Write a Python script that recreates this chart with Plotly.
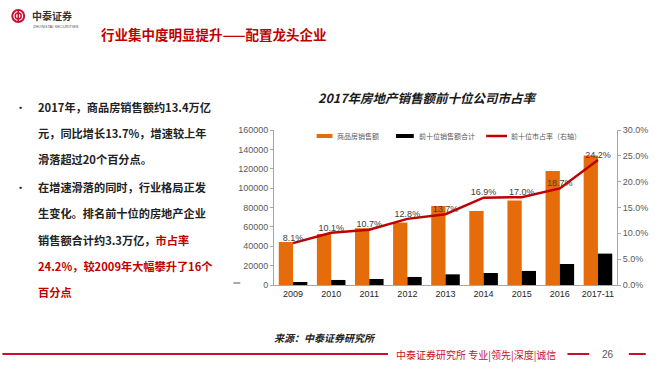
import plotly.graph_objects as go

# ---------------- data ----------------
years = ["2009", "2010", "2011", "2012", "2013", "2014", "2015", "2016", "2017-11"]
sales_total = [44355, 52721, 58589, 64456, 81428, 76292, 87281, 117627, 133701]   # 商品房销售额
top10_sales = [3100, 5200, 6200, 8300, 11000, 12400, 14500, 21700, 32400]          # 前十位销售额合计
top10_share = [8.1, 10.1, 10.7, 12.8, 13.7, 16.9, 17.0, 18.7, 24.2]                # 前十位市占率 (%)
share_labels = [f"{v:.1f}%" for v in top10_share]

legend_names = ["商品房销售额", "前十位销售额合计", "前十位市占率（右轴）"]
chart_title = "2017年房地产销售额前十位公司市占率"
page_title = "行业集中度明显提升——配置龙头企业"
bullet_lines = [
    ("•", "2017年，商品房销售额约13.4万亿"),
    ("", "元，同比增长13.7%，增速较上年"),
    ("", "滑落超过20个百分点。"),
    ("•", "在增速滑落的同时，行业格局正发"),
    ("", "生变化。排名前十位的房地产企业"),
    ("", "销售额合计约3.3万亿，<span style='color:#C00000'>市占率</span>"),
    ("", "<span style='color:#C00000'>24.2%，较2009年大幅攀升了16个</span>"),
    ("", "<span style='color:#C00000'>百分点</span>"),
]
source_text = "来源：中泰证券研究所"
footer_text = "中泰证券研究所 专业|领先|深度|诚信"
page_no = "26"

# ---------------- layout helpers ----------------
W, H = 660, 376
L, R, T, B = 274, 620, 130, 285
def X(px):
    return (px - L) / (R - L)
def Y(py):
    return (B - py) / (B - T)

ORANGE = "#E46C0A"
RED = "#C00000"
CJK = "Noto Sans CJK SC"

fig = go.Figure()
fig.add_trace(go.Bar(x=years, y=sales_total, name=legend_names[0],
                     marker=dict(color=ORANGE, line=dict(width=0)), showlegend=False))
fig.add_trace(go.Bar(x=years, y=top10_sales, name=legend_names[1],
                     marker=dict(color="#000000", line=dict(width=0)), showlegend=False))
fig.add_trace(go.Scatter(x=years, y=[v / 100 for v in top10_share], yaxis="y2",
                         mode="lines+text", text=share_labels, textposition="top center",
                         textfont=dict(family="Liberation Sans, Arial", size=9, color="#404040"),
                         line=dict(color=RED, width=2.5), name=legend_names[2], showlegend=False,
                         cliponaxis=False))

axis_font = dict(family="Liberation Sans, Arial", size=9, color="#595959")
fig.update_layout(
    width=W, height=H,
    margin=dict(l=L, r=W - R, t=T, b=H - B, pad=0),
    paper_bgcolor="white", plot_bgcolor="white",
    barmode="group", bargap=0.25, bargroupgap=0,
    font=dict(family=CJK),
    showlegend=False,
    xaxis=dict(type="category", showline=True, linecolor="#A6A6A6", linewidth=1,
               ticks="", showgrid=False, tickfont=dict(family="Liberation Sans, Arial", size=9, color="#262626")),
    yaxis=dict(range=[0, 160000], dtick=20000, tickformat="d", showline=True, linecolor="#A6A6A6",
               ticks="outside", ticklen=3, tickcolor="#A6A6A6", showgrid=False, zeroline=False,
               tickfont=axis_font),
    yaxis2=dict(range=[0, 0.30], dtick=0.05, tickformat=".1%", overlaying="y", side="right",
                showline=True, linecolor="#A6A6A6", ticks="outside", ticklen=3, tickcolor="#A6A6A6",
                showgrid=False, zeroline=False, tickfont=axis_font),
)

shapes = []
ann = []

# custom legend
shapes.append(dict(type="rect", xref="paper", yref="paper", x0=X(317), x1=X(333), y0=Y(138), y1=Y(134),
                   fillcolor=ORANGE, line=dict(width=0)))
ann.append(dict(x=X(336), y=Y(136), text=legend_names[0]))
shapes.append(dict(type="rect", xref="paper", yref="paper", x0=X(397), x1=X(415), y0=Y(138), y1=Y(134),
                   fillcolor="#000000", line=dict(width=0)))
ann.append(dict(x=X(418), y=Y(136), text=legend_names[1]))
shapes.append(dict(type="line", xref="paper", yref="paper", x0=X(488), x1=X(509), y0=Y(136), y1=Y(136),
                   line=dict(color=RED, width=2.5)))
ann.append(dict(x=X(511), y=Y(136), text=legend_names[2]))
for a in ann:
    a.update(xref="paper", yref="paper", xanchor="left", yanchor="middle", showarrow=False,
             font=dict(family=CJK, size=7, color="#595959"))

# chart title
ann.append(dict(x=X(429), y=Y(98), xref="paper", yref="paper", text=f"<b><i>{chart_title}</i></b>",
                showarrow=False, xanchor="center", yanchor="middle",
                font=dict(family=CJK, size=12.5, color="#1a1a1a")))

# page title
ann.append(dict(x=X(97), y=Y(34), xref="paper", yref="paper", text=f"<b>{page_title}</b>",
                showarrow=False, xanchor="left", yanchor="middle",
                font=dict(family=CJK, size=13.5, color=RED)))

# logo
LOGO = "#C8102E"
shapes.append(dict(type="circle", xref="paper", yref="paper", x0=X(10), x1=X(22), y0=Y(22), y1=Y(10),
                   line=dict(color=LOGO, width=2)))
shapes.append(dict(type="circle", xref="paper", yref="paper", x0=X(13), x1=X(19), y0=Y(19), y1=Y(13),
                   line=dict(color=LOGO, width=1.5)))
shapes.append(dict(type="line", xref="paper", yref="paper", x0=X(16), x1=X(16), y0=Y(22), y1=Y(10),
                   line=dict(color=LOGO, width=1.5)))
ann.append(dict(x=X(28), y=Y(16), xref="paper", yref="paper", text="<b>中泰证券</b>", showarrow=False,
                xanchor="left", yanchor="middle", font=dict(family=CJK, size=10, color="#333333")))
ann.append(dict(x=X(29), y=Y(26), xref="paper", yref="paper", text="ZHONGTAI SECURITIES", showarrow=False,
                xanchor="left", yanchor="middle", font=dict(family="Liberation Sans", size=4, color="#555555")))

# left bullet text
line_y = [107, 133, 159, 187, 213, 240, 266, 292]
for (bullet, txt), yy in zip(bullet_lines, line_y):
    if bullet:
        ann.append(dict(x=X(11), y=Y(yy), xref="paper", yref="paper", text=bullet, showarrow=False,
                        xanchor="left", yanchor="middle", font=dict(family=CJK, size=11.2, color="#222222")))
    ann.append(dict(x=X(34), y=Y(yy), xref="paper", yref="paper", text=f"<b>{txt}</b>", showarrow=False,
                    xanchor="left", yanchor="middle", font=dict(family=CJK, size=11.2, color="#222222")))

# small dash
shapes.append(dict(type="line", xref="paper", yref="paper", x0=X(233), x1=X(240), y0=Y(283), y1=Y(283),
                   line=dict(color="#555555", width=1)))

# source
ann.append(dict(x=X(272), y=Y(337), xref="paper", yref="paper", text=f"<b><i>{source_text}</i></b>",
                showarrow=False, xanchor="left", yanchor="middle",
                font=dict(family=CJK, size=10, color="#222222")))

# footer
FRED = "#C8102E"
for x0, x1 in [(0, 389), (570, 592), (632, 649)]:
    shapes.append(dict(type="line", xref="paper", yref="paper", x0=X(x0), x1=X(x1), y0=Y(354), y1=Y(354),
                       line=dict(color=FRED, width=2)))
ann.append(dict(x=X(395), y=Y(354), xref="paper", yref="paper", text=footer_text, showarrow=False,
                xanchor="left", yanchor="middle", font=dict(family=CJK, size=10, color=FRED)))
ann.append(dict(x=X(611), y=Y(354), xref="paper", yref="paper", text=page_no, showarrow=False,
                xanchor="center", yanchor="middle", font=dict(family="Liberation Sans", size=10, color="#555555")))

fig.update_layout(shapes=shapes, annotations=ann)
fig.write_html("out.html", config={"displayModeBar": False},
               post_script="document.body.style.margin='0';document.body.style.overflow='hidden';")
